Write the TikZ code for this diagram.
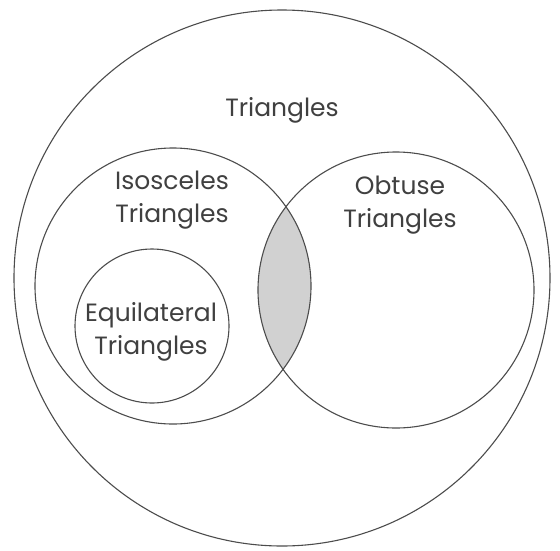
\documentclass[tikz,border=0pt]{standalone}
\usepackage{fontspec}
\setmainfont{Poppins}
\usepackage{tikz}
\usetikzlibrary{positioning, backgrounds}

\begin{document}
\begin{tikzpicture}[x=1pt, y=-1pt]
        \tikzstyle{set} = [circle, draw=black!70, line width=1.1pt, inner sep=0pt]
        \tikzstyle{settext} = [text=black!75, font=\fontsize{25}{33}\selectfont, align=center, inner sep=0pt]
        \useasboundingbox (0,0) rectangle (560,550);
        
        \node [set, minimum size=536pt] (triangles) at (282,278) {};
        \node [set, minimum size=276pt] (isosceles) at (173,286) {};
        \node [set, minimum size=276pt] (obtuse) at (396,290) {};
        \node [set, minimum size=154pt] (equilateral) at (152,326) {};
        
        \begin{scope}[on background layer]
            \clip (isosceles.center) circle (138pt);
            \fill [black!18] (obtuse.center) circle (138pt);
        \end{scope}
        
        \node [settext] (trianglestext) at (282,110) {Triangles};
        \node [settext] (isoscelestext) at (172,200) {Isosceles\\Triangles};
        \node [settext] (obtusetext) at (400,205) {Obtuse\\Triangles};
        \node [settext] (equilateraltext) at (151,332) {Equilateral\\Triangles};
    \end{tikzpicture}
\end{document}
